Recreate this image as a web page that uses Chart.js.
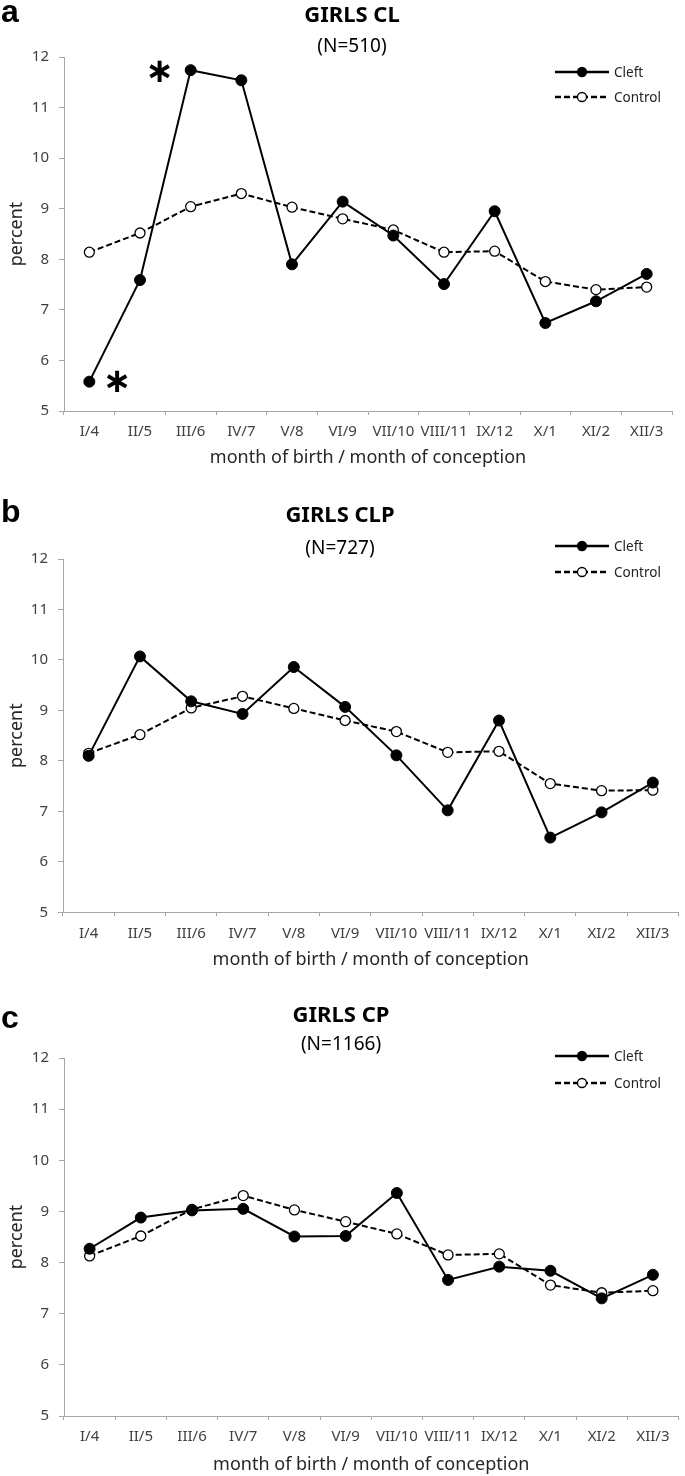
<!DOCTYPE html>
<html>
<head>
<meta charset="utf-8">
<script src="https://cdn.jsdelivr.net/npm/chart.js@4.4.0/dist/chart.umd.min.js"></script>
<style>
body { margin: 0; background: #fff; }
#page { position: relative; width: 685px; height: 1476px; overflow: hidden; font-family: "Noto Sans", sans-serif; }
.panel { position: absolute; left: 0; width: 685px; }
.panel canvas { position: absolute; left: 0; top: 0; }
.lbl { position: absolute; transform: translate(-50%, -50%); white-space: nowrap; color: #000; line-height: 1.2; }
.title { font-weight: bold; font-size: 22px; }
.sub { font-size: 19px; }
.letter { position: absolute; left: 1px; font: bold 32px "Liberation Sans", Arial, sans-serif; line-height: 1; }
</style>
</head>
<body>
<div id="page"></div>
<script>
const months = ['I/4', 'II/5', 'III/6', 'IV/7', 'V/8', 'VI/9', 'VII/10', 'VIII/11', 'IX/12', 'X/1', 'XI/2', 'XII/3'];
const seriesNames = ['Cleft', 'Control'];

// girls CL
const clCleft   = [5.58, 7.59, 11.74, 11.54, 7.90, 9.14, 8.47, 7.51, 8.95, 6.74, 7.17, 7.71];
const clControl = [8.14, 8.52, 9.04, 9.30, 9.03, 8.80, 8.58, 8.14, 8.16, 7.56, 7.40, 7.45];
// girls CLP
const clpCleft   = [8.10, 10.07, 9.18, 8.93, 9.86, 9.07, 8.11, 7.02, 8.80, 6.48, 6.98, 7.57];
const clpControl = [8.15, 8.52, 9.05, 9.28, 9.04, 8.80, 8.58, 8.17, 8.19, 7.55, 7.41, 7.42];
// girls CP
const cpCleft   = [8.27, 8.88, 9.02, 9.05, 8.51, 8.52, 9.36, 7.66, 7.92, 7.84, 7.30, 7.76];
const cpControl = [8.13, 8.52, 9.04, 9.31, 9.03, 8.80, 8.56, 8.15, 8.17, 7.56, 7.41, 7.45];

const yMin = 5, yMax = 12;

const panels = [
    { letter: 'a', title: 'GIRLS CL', n: '(N=510)', cleft: clCleft, control: clControl,
      top: 0, height: 490, titleX: 352, titleY: 13, nY: 45, letterTop: -5,
      pad: { top: 57, left: 0, right: 13, bottom: 21 }, axisW: 64, xH: 58, legY: [72, 97],
      stars: [{ index: 2, dx: -31, dy: 3 }, { index: 0, dx: 28, dy: 2 }] },
    { letter: 'b', title: 'GIRLS CLP', n: '(N=727)', cleft: clpCleft, control: clpControl,
      top: 490, height: 490, titleX: 340, titleY: 23, nY: 57, letterTop: 5,
      pad: { top: 69, left: 0, right: 2, bottom: 9 }, axisW: 63, xH: 58.7, legY: [56, 82], stars: [] },
    { letter: 'c', title: 'GIRLS CP', n: '(N=1166)', cleft: cpCleft, control: cpControl,
      top: 980, height: 496, titleX: 341, titleY: 33, nY: 63, letterTop: 21,
      pad: { top: 78, left: 0, right: 5, bottom: 0 }, axisW: 64, xH: 60, legY: [76, 103], stars: [] }
];

const AXIS = '#a6a6a6';
const TICK = '#404040';
const FONT = '"Noto Sans", sans-serif';

function makePanel(p) {
    const page = document.getElementById('page');
    const box = document.createElement('div');
    box.className = 'panel';
    box.style.top = p.top + 'px';
    box.style.height = p.height + 'px';
    box.innerHTML = `
        <canvas width="685" height="${p.height}"></canvas>
        <div class="letter" style="top:${p.letterTop}px">${p.letter}</div>
        <div class="lbl title" style="left:${p.titleX}px;top:${p.titleY}px">${p.title}</div>
        <div class="lbl sub" style="left:${p.titleX}px;top:${p.nY}px">${p.n}</div>`;
    page.appendChild(box);

    // legend drawn in the top right corner, line + marker + name
    const legendPlugin = {
        id: 'miniLegend',
        afterDraw(chart) {
            const ctx = chart.ctx;
            const x0 = 555, x1 = 609;
            p.legY.forEach((y, i) => {
                const ds = chart.data.datasets[i];
                ctx.save();
                ctx.strokeStyle = '#000';
                ctx.lineWidth = 2.4;
                ctx.setLineDash(ds.borderDash || []);
                ctx.beginPath(); ctx.moveTo(x0, y); ctx.lineTo(x1, y); ctx.stroke();
                ctx.setLineDash([]);
                ctx.beginPath(); ctx.arc((x0 + x1) / 2, y, 4.5, 0, Math.PI * 2);
                ctx.fillStyle = ds.pointBackgroundColor; ctx.fill();
                ctx.lineWidth = 1.3; ctx.stroke();
                ctx.fillStyle = '#222';
                ctx.font = '13.5px ' + FONT;
                ctx.textBaseline = 'middle';
                ctx.fillText(ds.label, x1 + 5, y + 1);
                ctx.restore();
            });
        }
    };

    // significance asterisks next to cleft points
    const starPlugin = {
        id: 'stars',
        afterDatasetsDraw(chart) {
            const ctx = chart.ctx;
            p.stars.forEach(m => {
                const x = chart.scales.x.getPixelForValue(m.index);
                const y = chart.scales.y.getPixelForValue(chart.data.datasets[0].data[m.index]);
                ctx.save();
                ctx.fillStyle = '#000';
                ctx.font = 'bold 34px "DejaVu Sans"';
                ctx.textAlign = 'center';
                ctx.textBaseline = 'middle';
                ctx.fillText('\u2217', x + m.dx, y + m.dy);
                ctx.restore();
            });
        }
    };

    new Chart(box.querySelector('canvas'), {
        type: 'line',
        data: {
            labels: months,
            datasets: [
                { label: seriesNames[0], data: p.cleft, borderColor: '#000', borderWidth: 2,
                  pointRadius: 5.5, pointBackgroundColor: '#000', pointBorderColor: '#000', pointBorderWidth: 1, tension: 0 },
                { label: seriesNames[1], data: p.control, borderColor: '#000', borderWidth: 2, borderDash: [6, 3],
                  pointRadius: 5, pointBackgroundColor: '#fff', pointBorderColor: '#000', pointBorderWidth: 1.3, tension: 0 }
            ]
        },
        options: {
            responsive: false, animation: false,
            layout: { padding: p.pad },
            plugins: { legend: { display: false }, title: { display: false }, tooltip: { enabled: false } },
            scales: {
                x: {
                    offset: true,
                    grid: { offset: true, drawOnChartArea: false, tickLength: 4, color: AXIS },
                    border: { color: AXIS },
                    ticks: { padding: 8, color: TICK, font: { family: FONT, size: 15 }, maxRotation: 0, autoSkip: false },
                    title: { display: true, text: 'month of birth / month of conception', color: '#262626',
                             font: { family: FONT, size: 18 }, padding: 0 },
                    afterFit(s) { s.height = p.xH; }
                },
                y: {
                    min: yMin, max: yMax,
                    grid: { drawOnChartArea: false, tickLength: 5, color: AXIS },
                    border: { color: AXIS },
                    ticks: { stepSize: 1, padding: 10, color: TICK, font: { family: FONT, size: 15 } },
                    title: { display: true, text: 'percent', color: '#262626',
                             font: { family: FONT, size: 18 }, padding: { top: 6, bottom: 0 } },
                    afterFit(s) { s.width = p.axisW; }
                }
            }
        },
        plugins: [legendPlugin, starPlugin]
    });
}

panels.forEach(makePanel);
</script>
</body>
</html>
